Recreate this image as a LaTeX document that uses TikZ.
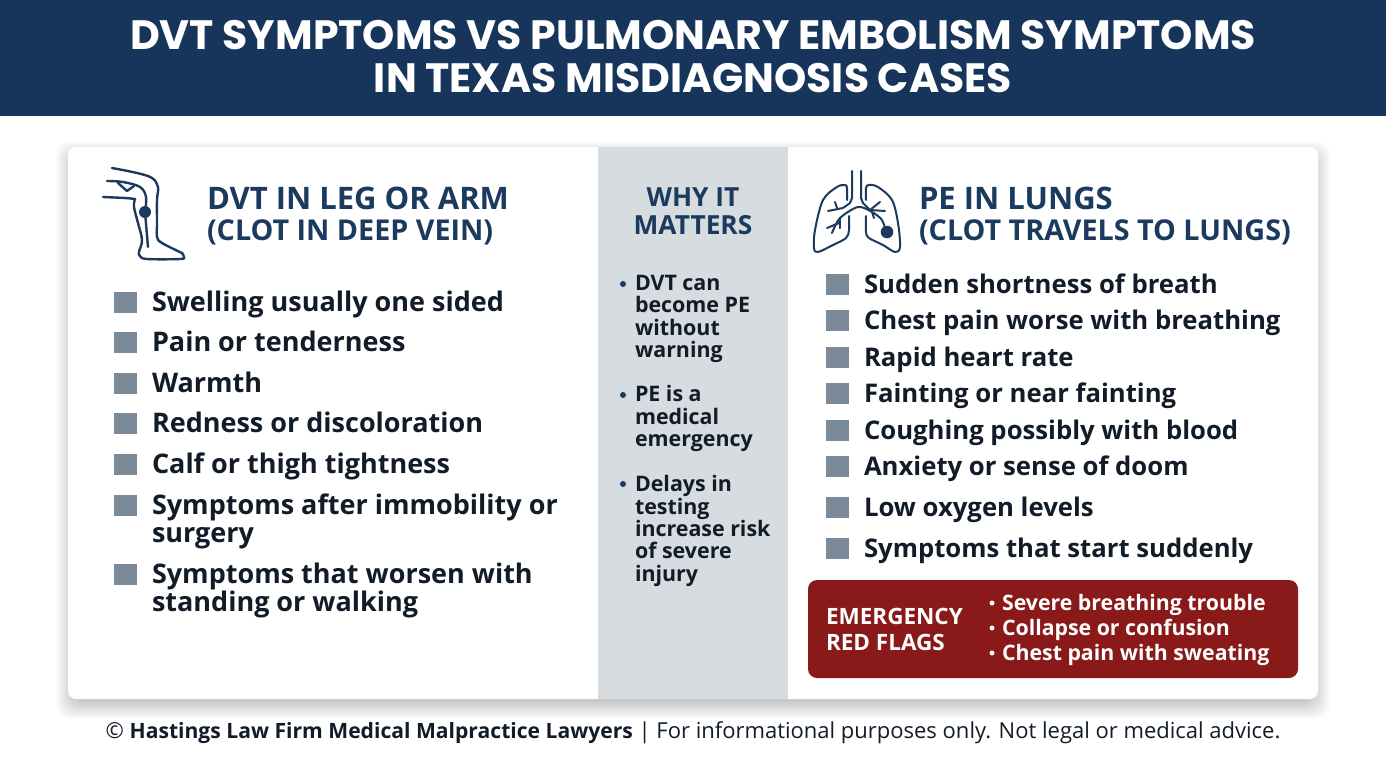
\documentclass[tikz,border=0pt]{standalone}
\usepackage{fontspec}
\setmainfont{Open Sans}
\newfontfamily\titlefont{Poppins}
\definecolor{navy}{HTML}{17355A}
\definecolor{head}{HTML}{1C3A5E}
\definecolor{ink}{HTML}{121C28}
\definecolor{sq}{HTML}{7B8A98}
\definecolor{midp}{HTML}{D6DCDF}
\definecolor{redb}{HTML}{8A1A1A}
\tikzset{
 x=1pt,y=-1pt,
 txt/.style={inner sep=0pt,outer sep=0pt,anchor=base west,align=left},
 title/.style={txt,anchor=base,font=\titlefont\fontsize{41}{41}\selectfont\bfseries,text=white},
 hda/.style={txt,font=\fontsize{31}{31}\selectfont\bfseries,text=head},
 hdb/.style={txt,font=\fontsize{28.7}{28.7}\selectfont\bfseries,text=head},
 item/.style={txt,font=\fontsize{27}{27}\selectfont\bfseries,text=ink},
 itemr/.style={txt,font=\fontsize{25.7}{25.7}\selectfont\bfseries,text=ink},
 midh/.style={txt,anchor=base,font=\fontsize{26.3}{26.3}\selectfont\bfseries,text=head},
 midt/.style={txt,font=\fontsize{21.4}{21.4}\selectfont\bfseries,text=ink},
 midb/.style={circle,fill=head,minimum size=6pt,inner sep=0pt},
 sqbox/.style={fill=sq,minimum width=23pt,minimum height=21pt,inner sep=0pt,anchor=west},
 redt/.style={txt,font=\fontsize{22.5}{22.5}\selectfont\bfseries,text=white},
 redi/.style={txt,font=\fontsize{21.3}{21.3}\selectfont\bfseries,text=white},
 redd/.style={circle,fill=white,minimum size=5pt,inner sep=0pt},
 icon/.style={draw=head,line width=2.4pt,line cap=round,line join=round},
 iconb/.style={icon,line width=2pt},
}
\begin{document}
\begin{tikzpicture}
\useasboundingbox (0,0) rectangle (1386,756);
\fill[white] (0,0) rectangle (1386,756);
\fill[navy] (0,0) rectangle (1386,116);
\node[title] (t1) at (693,49) {DVT SYMPTOMS VS PULMONARY EMBOLISM SYMPTOMS};
\node[title] (t2) at (693,92) {IN TEXAS MISDIAGNOSIS CASES};
% card with soft shadow
\foreach \i in {1,...,20}{
 \fill[black,opacity=0.010,rounded corners=14pt] (76-\i,147+14-\i) rectangle (1310+\i,699+\i);
}
\fill[white,rounded corners=8pt] (68,147) rectangle (1318,699);
\fill[midp] (598,147) rectangle (788,699);
% leg icon
\draw[icon] plot[smooth,tension=0.6] coordinates {(112,168) (137,173) (152,178) (158,187) (157,200) (157,225) (157,237) (162,243) (182,253)};
\draw[icon] plot[smooth,tension=0.6] coordinates {(182,253) (184,257) (180,259) (147,259) (140,256) (139,252) (142,240) (138,223) (134,207) (135,199)};
\draw[icon] plot[smooth,tension=0.5] coordinates {(135,199) (125,198) (103,197)};
\draw[icon] plot[smooth,tension=0.6] coordinates {(107,181) (123,182) (140,187) (146,197) (145,212)};
\draw[icon] (118,183) -- (127,191);
\draw[icon] (127,191) -- (134,186);
\draw[icon] (145,212) -- (148,247);
\fill[head] (145,212) circle (6pt);
% lungs icon
\draw[iconb] (852,171) -- (852,198) -- (850,203) -- (843,208) -- (828,211);
\draw[iconb] (861,171) -- (861,198) -- (863,203) -- (870,210) -- (885,211);
\draw[iconb] plot[smooth,tension=0.5] coordinates {(832,233) (840,218) (858,207) (872,212) (882,220) (886,232)};
\draw[iconb] (835,202) -- (837,208);
\draw[iconb] (827,228) -- (839,223);
\draw[iconb] (840,228) -- (840,218);
\draw[iconb] (870,210) -- (880,202);
\draw[iconb] (872,212) -- (874,218);
\draw[iconb] plot[smooth,tension=0.55] coordinates {(847,200) (847,188) (845,185) (837,187) (823,200) (815,230) (814,248) (818,252) (833,245) (846,238) (849,230) (849,216)};
\draw[iconb] plot[smooth,tension=0.55] coordinates {(866,200) (866,188) (869,185) (878,187) (892,200) (898,223) (900,247) (895,252) (883,245) (869,238) (866,232) (866,216)};
\fill[head] (887,232) circle (6.3pt);
% headings
\node[hda] (hl1) at (207,209) {DVT IN LEG OR ARM};
\node[hdb] (hl2) at (207,240) {(CLOT IN DEEP VEIN)};
\node[hda] (hr1) at (919,209) {PE IN LUNGS};
\node[hdb] (hr2) at (919,240) {(CLOT TRAVELS TO LUNGS)};
% left list
\foreach \n/\y/\s in {1/302/Swelling usually one sided,2/342/Pain or tenderness,3/383/Warmth,4/423/Redness or discoloration,5/464/Calf or thigh tightness,6/505/Symptoms after immobility or,7/574/Symptoms that worsen with}{
 \node[sqbox] (ls\n) at (114,\y) {};
 \node[item] (li\n) at (152,\y+9.5) {\s};
}
\node[item] (li6b) at (152,542.5) {surgery};
\node[item] (li7b) at (152,611.5) {standing or walking};
% right list
\foreach \n/\y/\s in {1/284/Sudden shortness of breath,2/320/Chest pain worse with breathing,3/357/Rapid heart rate,4/393/Fainting or near fainting,5/430/Coughing possibly with blood,6/466/Anxiety or sense of doom,7/507/Low oxygen levels,8/548/Symptoms that start suddenly}{
 \node[sqbox] (rs\n) at (826,\y) {};
 \node[itemr] (ri\n) at (864,\y+9.5) {\s};
}
% middle
\node[midh] (mh1) at (693,206) {WHY IT};
\node[midh] (mh2) at (693,234) {MATTERS};
\node[midb] (mb1) at (623,284) {};
\node[midb] (mb2) at (623,395) {};
\node[midb] (mb3) at (623,484) {};
\foreach \n/\y/\s in {1/290/DVT can,2/312/become PE,3/335/without,4/357/warning,5/401/PE is a,6/424/medical,7/446/emergency,8/491/Delays in,9/514/testing,10/536/increase risk,11/558/of severe,12/581/injury}{
 \node[midt] (mt\n) at (635,\y) {\s};
}
% red box
\fill[redb,rounded corners=9pt] (808,580) rectangle (1298,678);
\node[redt] (e1) at (826,624) {EMERGENCY};
\node[redt] (e2) at (826,650) {RED FLAGS};
\foreach \n/\y/\s in {1/603/Severe breathing trouble,2/628/Collapse or confusion,3/653/Chest pain with sweating}{
 \node[redd] (rd\n) at (992,\y) {};
 \node[redi] (rt\n) at (1002,\y+7.5) {\s};
}
% footer
\node[txt,anchor=base,font=\fontsize{22}{22}\selectfont,text=ink] (foot) at (693,738) {© {\fontsize{21.1}{21.1}\selectfont\bfseries Hastings Law Firm Medical Malpractice Lawyers} | For informational purposes only. Not legal or medical advice.};
\end{tikzpicture}
\end{document}
